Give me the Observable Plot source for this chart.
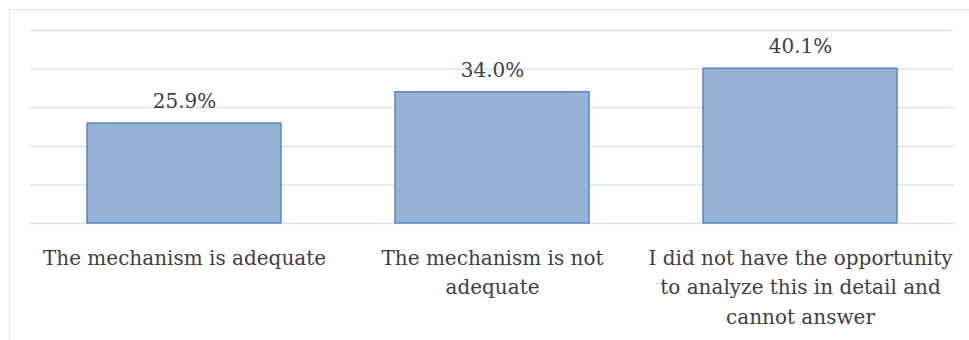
<!DOCTYPE html>
<html>
<head>
<meta charset="utf-8">
<script src="https://cdn.jsdelivr.net/npm/d3@7"></script>
<script src="https://cdn.jsdelivr.net/npm/@observablehq/plot@0.6"></script>
<style>
  html, body { margin: 0; padding: 0; background: #ffffff; }
  #wrap { position: relative; width: 969px; height: 340px; overflow: hidden; }
  #border { position: absolute; left: 9px; top: 9px; width: 980px; height: 360px; border: 1.5px solid #e2e2e2; box-sizing: border-box; }
  #chart { position: absolute; left: 0; top: 0; }
</style>
</head>
<body>
<div id="wrap"><div id="border"></div><div id="chart"></div></div>
<script>
const categories = [
  "The mechanism is adequate",
  "The mechanism is not adequate",
  "I did not have the opportunity to analyze this in detail and cannot answer"
];
const tickLabels = [
  "The mechanism is adequate",
  "The mechanism is not\nadequate",
  "I did not have the opportunity\nto analyze this in detail and\ncannot answer"
];
const values = [25.9, 34.0, 40.1];
const gridTicks = [0, 10, 20, 30, 40, 50];

const data = categories.map((c, i) => ({category: c, value: values[i], label: values[i].toFixed(1) + "%"}));
const labelOf = new Map(categories.map((c, i) => [c, tickLabels[i]]));

const chart = Plot.plot({
  width: 969,
  height: 340,
  marginLeft: 30,
  marginRight: 15,
  marginTop: 30,
  marginBottom: 117,
  style: {fontFamily: "'DejaVu Serif', serif", background: "transparent"},
  x: {domain: categories, paddingInner: 0.37, paddingOuter: 0.185, label: null},
  y: {domain: [0, 50], axis: null},
  marks: [
    Plot.ruleY(gridTicks, {stroke: "#d6e0ee", strokeWidth: 1.3}),
    Plot.barY(data, {x: "category", y: "value", fill: "#95b3d7", stroke: "#5b87c2", strokeWidth: 1.5}),
    Plot.text(data, {x: "category", y: "value", text: "label", dy: -22, fontSize: 20, fill: "#404040"}),
    Plot.axisX({tickSize: 0, tickPadding: 20, fontSize: 20, lineHeight: 1.48, fill: "#404040", tickFormat: d => labelOf.get(d), label: null})
  ]
});
document.getElementById("chart").appendChild(chart);
</script>
</body>
</html>
